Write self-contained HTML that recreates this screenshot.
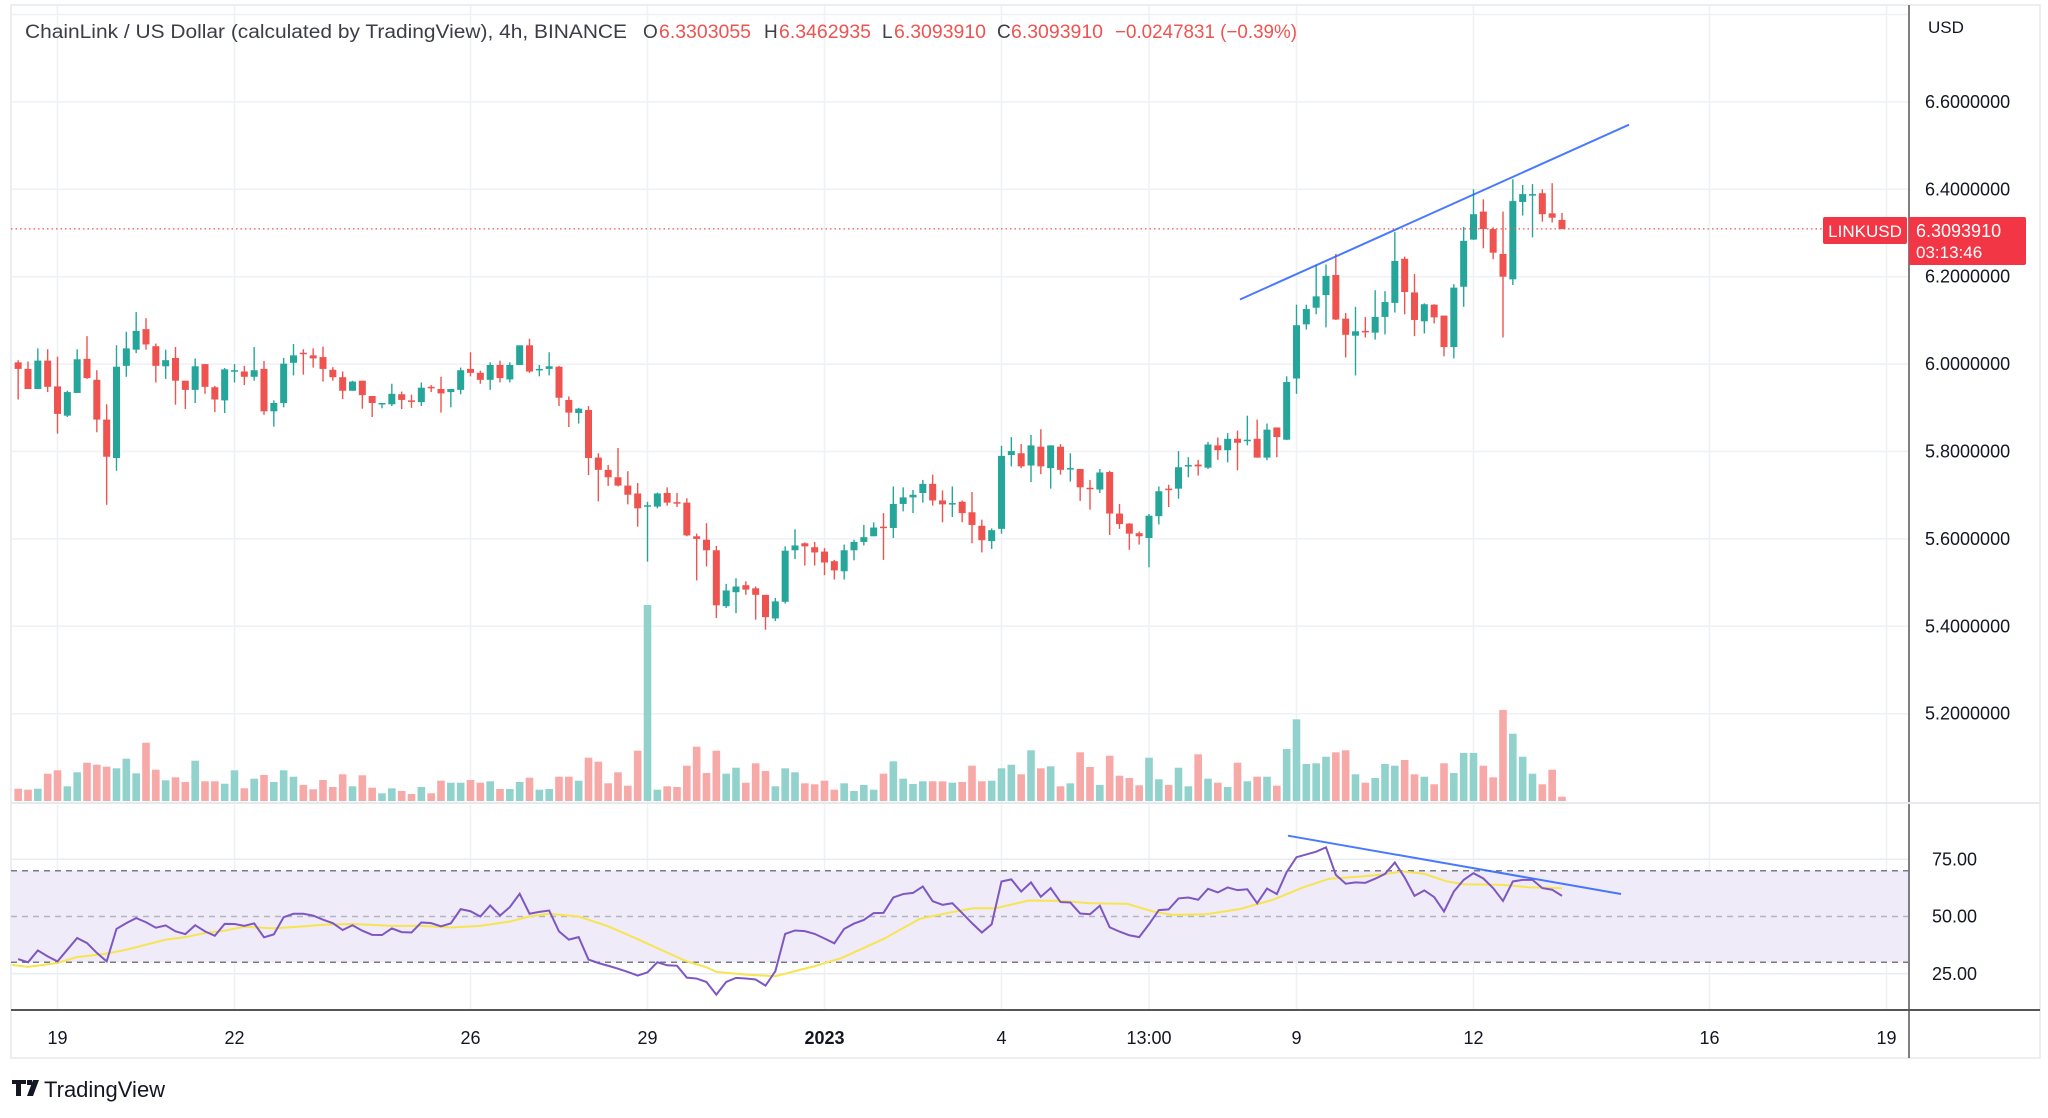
<!DOCTYPE html>
<html><head><meta charset="utf-8"><style>
html,body{margin:0;padding:0;background:#fff;width:2048px;height:1118px;overflow:hidden}
svg{display:block;font-family:"Liberation Sans","DejaVu Sans",sans-serif}
</style></head><body>
<svg id="chart" xmlns="http://www.w3.org/2000/svg" width="2048" height="1118" viewBox="0 0 2048 1118">
<defs>
<clipPath id="plotClip"><rect x="11" y="6" width="1897" height="796"/></clipPath>
<clipPath id="rsiClip"><rect x="11" y="803" width="1897" height="205"/></clipPath>
</defs>
<rect x="0" y="0" width="2048" height="1118" fill="#fff"/>
<rect x="11" y="5" width="2029" height="1053" fill="none" stroke="#e6e9ee" stroke-width="1.5"/>
<g id="grid"></g>
<g id="rsiBand"></g>
<g id="volumes" clip-path="url(#plotClip)"></g>
<g id="candles" clip-path="url(#plotClip)"></g>
<g id="rsi" clip-path="url(#rsiClip)"></g>
<line id="lastLine" x1="11" x2="1908" stroke="#ef5350" stroke-width="1.3" stroke-dasharray="1.5 3"/>
<line x1="1240" y1="299.5" x2="1629" y2="124.7" stroke="#2962ff" stroke-width="2" opacity="0.85"/>
<line x1="1288" y1="835.7" x2="1621" y2="894" stroke="#2962ff" stroke-width="2" opacity="0.85"/>
<line x1="1909" y1="5" x2="1909" y2="1058" stroke="#555" stroke-width="1.5"/>
<line x1="11" y1="803" x2="2040" y2="803" stroke="#e6e9ee" stroke-width="2"/>
<line x1="11" y1="1010" x2="2040" y2="1010" stroke="#555" stroke-width="2"/>
<g id="axes" font-size="18" fill="#131722"></g>
<text x="1928" y="33" font-size="17" fill="#131722">USD</text>
<g font-size="19">
<text x="25" y="38" fill="#3b3e47" textLength="602" lengthAdjust="spacingAndGlyphs">ChainLink / US Dollar (calculated by TradingView), 4h, BINANCE</text>
<text x="643" y="38" fill="#3b3e47">O</text><text x="659" y="38" fill="#ef5350" textLength="92" lengthAdjust="spacingAndGlyphs">6.3303055</text>
<text x="764" y="38" fill="#3b3e47">H</text><text x="779" y="38" fill="#ef5350" textLength="92" lengthAdjust="spacingAndGlyphs">6.3462935</text>
<text x="882" y="38" fill="#3b3e47">L</text><text x="894" y="38" fill="#ef5350" textLength="92" lengthAdjust="spacingAndGlyphs">6.3093910</text>
<text x="997" y="38" fill="#3b3e47">C</text><text x="1011" y="38" fill="#ef5350" textLength="92" lengthAdjust="spacingAndGlyphs">6.3093910</text>
<text x="1115" y="38" fill="#ef5350" textLength="182" lengthAdjust="spacingAndGlyphs">−0.0247831 (−0.39%)</text>
</g>
<g>
<rect x="1823" y="217" width="84" height="27" rx="2" fill="#f23645"/>
<text x="1865" y="237" font-size="17" fill="#fff" text-anchor="middle">LINKUSD</text>
<rect x="1909" y="217" width="117" height="48" rx="2" fill="#f23645"/>
<text x="1916" y="237" font-size="18" fill="#fff">6.3093910</text>
<text x="1916" y="258" font-size="17" fill="#fff">03:13:46</text>
</g>
<g>
<path d="M12 1080h14v4h-5v12h-5v-12h-4z M27 1080h5v5h-5z M33 1080h6l-6 16h-6z" fill="#131722"/>
<text x="44" y="1097" font-size="22" fill="#131722">TradingView</text>
</g>
</svg>
<script>
// ---- data (index 0 = Dec 19 00:00, 4h bars, first bar index = startIdx) ----
const startIdx = -4;
const opens = [6.004,5.989,5.943,6.008,
5.949,5.882,5.934,6.012,5.964,5.873,5.785,5.996,6.033,6.080,
6.041,5.995,6.014,5.962,5.941,6.000,5.947,5.917,5.985,5.983,
5.971,5.989,5.892,5.911,6.003,6.026,6.020,6.016,5.987,5.970,
5.939,5.962,5.927,5.909,5.908,5.931,5.917,5.913,5.948,5.943,
5.936,5.941,5.989,5.980,5.964,5.998,5.965,5.998,6.043,5.988,
5.989,5.994,5.918,5.888,5.895,5.786,5.758,5.741,5.722,5.704,
5.674,5.674,5.705,5.684,5.683,5.606,5.598,5.574,5.446,5.478,
5.494,5.487,5.472,5.418,5.456,5.574,5.590,5.581,5.571,5.549,
5.526,5.574,5.593,5.606,5.628,5.625,5.680,5.695,5.705,5.726,
5.688,5.680,5.685,5.661,5.630,5.595,5.623,5.792,5.796,5.768,
5.811,5.762,5.811,5.760,5.760,5.717,5.713,5.753,5.658,5.635,
5.613,5.602,5.652,5.715,5.715,5.766,5.770,5.763,5.814,5.803,
5.829,5.824,5.829,5.786,5.855,5.827,5.967,6.091,6.129,6.158,
6.204,6.104,6.065,6.076,6.072,6.108,6.140,6.241,6.164,6.098,
6.136,6.111,6.039,6.177,6.285,6.349,6.309,6.252,6.194,6.371,
6.386,6.391,6.345,6.330];
const closes = [5.989,5.943,6.008,5.948,
5.886,5.936,6.011,5.968,5.873,5.788,5.994,6.036,6.076,6.045,
5.996,6.009,5.962,5.941,5.995,5.948,5.919,5.988,5.986,5.971,
5.986,5.892,5.911,6.001,6.020,6.023,6.013,5.989,5.970,5.939,
5.960,5.929,5.911,5.911,5.932,5.918,5.914,5.946,5.945,5.933,
5.943,5.986,5.980,5.964,5.998,5.968,5.998,6.043,5.983,5.989,
5.995,5.923,5.889,5.898,5.785,5.758,5.741,5.722,5.701,5.670,
5.677,5.704,5.683,5.682,5.608,5.600,5.574,5.448,5.482,5.491,
5.484,5.472,5.421,5.457,5.573,5.585,5.583,5.569,5.546,5.528,
5.574,5.593,5.604,5.626,5.627,5.680,5.695,5.701,5.726,5.688,
5.679,5.682,5.659,5.632,5.597,5.620,5.790,5.801,5.766,5.814,
5.766,5.814,5.758,5.762,5.718,5.715,5.752,5.658,5.634,5.612,
5.606,5.653,5.709,5.713,5.764,5.769,5.766,5.816,5.803,5.829,
5.820,5.827,5.786,5.850,5.833,5.959,6.089,6.126,6.155,6.202,
6.102,6.067,6.075,6.075,6.108,6.142,6.236,6.165,6.101,6.137,
6.107,6.039,6.175,6.282,6.343,6.309,6.255,6.200,6.373,6.389,
6.389,6.343,6.335,6.309];
const highs = [6.009,6.006,6.036,6.034,
6.017,5.939,6.034,6.064,5.986,5.908,6.043,6.074,6.119,6.105,
6.047,6.033,6.039,5.962,6.013,6.000,5.950,5.991,6.000,5.996,
6.039,6.007,5.917,6.014,6.046,6.034,6.036,6.040,5.993,5.983,
5.962,5.962,5.927,5.911,5.955,5.937,5.930,5.958,5.952,5.971,
5.943,5.992,6.027,5.985,6.004,6.008,6.004,6.043,6.058,5.998,
6.027,5.996,5.926,5.900,5.904,5.796,5.769,5.808,5.755,5.728,
5.685,5.706,5.718,5.705,5.693,5.612,5.636,5.584,5.497,5.510,
5.503,5.491,5.472,5.465,5.583,5.622,5.592,5.593,5.579,5.552,
5.587,5.598,5.632,5.638,5.659,5.720,5.718,5.712,5.735,5.747,
5.711,5.720,5.688,5.707,5.644,5.624,5.813,5.833,5.817,5.838,
5.851,5.814,5.817,5.796,5.760,5.735,5.760,5.756,5.680,5.636,
5.617,5.657,5.720,5.724,5.801,5.787,5.781,5.822,5.832,5.842,
5.848,5.882,5.873,5.864,5.855,5.972,6.136,6.136,6.227,6.228,
6.252,6.117,6.131,6.108,6.169,6.167,6.302,6.246,6.206,6.139,
6.137,6.111,6.183,6.314,6.400,6.377,6.313,6.349,6.423,6.410,
6.412,6.400,6.414,6.346];
const lows = [5.919,5.943,5.943,5.936,
5.841,5.879,5.934,5.966,5.844,5.678,5.756,5.971,6.025,6.033,
5.958,5.966,5.907,5.897,5.911,5.932,5.890,5.888,5.958,5.952,
5.962,5.884,5.857,5.901,5.974,5.976,5.992,5.960,5.962,5.920,
5.939,5.898,5.879,5.899,5.904,5.897,5.900,5.904,5.936,5.889,
5.901,5.931,5.972,5.955,5.941,5.958,5.958,5.998,5.980,5.972,
5.974,5.904,5.856,5.864,5.746,5.686,5.721,5.720,5.679,5.628,
5.548,5.670,5.676,5.673,5.606,5.505,5.537,5.419,5.442,5.430,
5.472,5.415,5.392,5.412,5.452,5.554,5.539,5.539,5.517,5.507,
5.507,5.551,5.585,5.606,5.552,5.602,5.663,5.659,5.683,5.676,
5.638,5.650,5.638,5.590,5.569,5.577,5.612,5.766,5.762,5.730,
5.748,5.715,5.747,5.731,5.687,5.667,5.705,5.609,5.623,5.575,
5.587,5.535,5.633,5.673,5.692,5.741,5.745,5.760,5.781,5.775,
5.757,5.814,5.786,5.780,5.787,5.826,5.932,6.079,6.114,6.084,
6.101,6.015,5.974,6.061,6.056,6.068,6.118,6.114,6.064,6.070,
6.093,6.018,6.013,6.131,6.284,6.265,6.240,6.061,6.181,6.340,
6.290,6.326,6.324,6.309];
const volumes = [12.3,11.3,12.3,27.3,
30.7,14.7,28.7,38.3,36.3,34.3,32.7,42.3,27.7,58.3,
31.3,20.7,23.7,19,40.3,19.7,19.7,17.3,30.7,12.7,
22.3,26,19,30.7,24.3,16,11.7,21,14,26.7,
14.7,25.7,13.3,7.7,12.7,10,7,14,7.7,20.3,
18.3,18.3,21,18.3,19.7,12,12,19,23.3,11.3,
12,24.3,24.3,20.3,43.3,39.3,17.7,28.7,15.3,50.3,
196,11.3,14.7,14,35.3,54.3,28,50.3,27.3,33.3,
18.3,37.7,30,14.7,32.7,28.7,17.7,16.7,20.3,11.3,
17.7,10,16,11.3,27.3,39.7,22.3,17,19.7,19.7,
19.7,18.3,19,35.3,19.7,20.3,32.7,36.3,26.7,50.7,
32.7,34.7,14.7,17.7,48.7,34,16,45.3,25.3,23,
15.7,43.3,21.7,16,33.3,14.7,46.7,22.3,18.3,14,
38.3,19.7,24.3,24.3,15.3,52,81.7,37,37.7,44.3,
48.7,50.7,26.7,18.3,23,37,35.3,41,26.7,24.3,
16.7,37.7,28,48,48,35.3,23.7,91,67.3,44.3,
27.3,16.7,31.3,4.3];
const rsiValues = [31.4,30.0,35.2,32.6,
30.4,35.5,40.6,38.4,34.1,30.4,44.6,47.1,49.3,47.5,
45.1,46.1,43.5,42.3,46.2,43.5,41.6,46.8,46.7,45.9,
47.0,40.9,42.2,49.7,51.2,51.2,50.4,48.6,47.1,44.1,
46.2,43.8,42.0,41.9,44.8,43.2,43.0,47.4,47.1,45.7,
47.0,53.2,52.3,50.0,54.8,50.4,54.1,59.9,51.2,52.0,
52.6,43.5,39.9,41.0,31.2,29.7,28.5,27.2,25.8,24.2,
25.6,30.0,28.7,28.5,23.3,22.9,21.4,15.9,21.4,23.2,
22.9,22.5,19.8,26.1,42.4,43.9,43.6,42.4,40.4,38.3,
44.6,46.9,48.5,51.5,51.6,58.3,59.8,60.3,63.1,56.7,
55.1,55.8,51.5,47.1,43.0,46.6,65.3,66.2,60.9,64.9,
58.6,62.4,56.3,56.1,51.3,51.0,54.7,45.3,43.4,41.8,
41.0,46.6,52.8,53.1,57.9,58.3,57.3,62.1,60.5,62.7,
61.5,61.9,55.8,62.2,59.8,69.4,75.9,77.1,78.3,80.2,
68.2,64.3,64.9,64.7,66.5,68.6,73.6,67.0,59.0,61.4,
58.5,52.2,60.9,66.0,68.9,66.6,62.4,56.8,65.3,66.0,
66.0,62.4,61.7,59.0];
const rsiMaIdx = [-4.6,-3,0,1.9,5,7,9,11,13,15,17,19,22,25,27,30,34,37,40,43,46,48,50,53,56,59,61,64,66,67,70,73,76.8,79.7,84,87.7,90.5,93.1,95.4,98.8,102,105.1,108.8,111.4,113.4,116.8,120.2,123.6,126.5,129.3,132.8,135,136.8,139,141.3,143,147,149.8,153];
const rsiMaVal = [28.8,28.0,29.7,32.2,33.8,35.5,37.7,39.9,41.0,42.8,43.8,45.5,44.8,45.7,46.4,46.7,45.9,45.9,45.2,45.9,47.8,50.0,51.2,50.0,45.7,40.1,36.2,30.4,27.8,25.8,24.6,23.9,28.1,31.8,40.2,49.0,51.5,53.6,53.6,57.0,56.8,55.8,55.5,52.2,50.7,51.0,53.2,57.3,62.4,66.5,67.5,68.5,69.7,68.6,65.3,64.1,63.8,62.7,62.4];
const priceTicks = [6.6,6.4,6.2,6.0,5.8,5.6,5.4,5.2];
const priceTickLabels = ["6.6000000","6.4000000","6.2000000","6.0000000","5.8000000","5.6000000","5.4000000","5.2000000"];
const rsiTicks = [75,50,25];
const rsiTickLabels = ["75.00","50.00","25.00"];
const timeTickDays = [0,3,7,10,13,16,18.5,21,24,28,31];
const timeTickLabels = ["19","22","26","29","2023","4","13:00","9","12","16","19"];
const lastPrice = 6.3093910;

// ---- scales ----
const NS = "http://www.w3.org/2000/svg";
const dayX = d => 57.5 + d * 59;
const barX = i => dayX(i / 6);
const priceY = p => 189.3 + (6.4 - p) * 437;
const volBase = 801;
const volY = v => volBase - v * 1.0;
const rsiY = r => 916.5 - (r - 50) * 2.29;
const UP = "#26a69a", DN = "#ef5350", UPV = "#92d2cc", DNV = "#f7a9a7";
function mk(tag, attrs, parent) {
  const el = document.createElementNS(NS, tag);
  for (const k in attrs) el.setAttribute(k, attrs[k]);
  parent.appendChild(el);
  return el;
}
const grid = document.getElementById('grid');
const axes = document.getElementById('axes');
priceTicks.concat([6.8]).forEach(p => {
  const l = mk('line', {x1: 11, x2: 1908, y1: priceY(p), y2: priceY(p), stroke: '#eef1f6', 'stroke-width': 1.5}, grid);
  
  
});
priceTicks.forEach((p, k) => {
  const t = mk('text', {x: 1925, y: priceY(p) + 6}, axes);
  t.textContent = priceTickLabels[k];
  
  
});
timeTickDays.forEach((d, k) => {
  const x = dayX(d);
  const l = mk('line', {x1: x, x2: x, y1: 6, y2: 1009, stroke: '#eef1f6', 'stroke-width': 1.5}, grid);
  
  
  const t = mk('text', {x: x, y: 1044, 'text-anchor': 'middle'}, axes);
  if (timeTickLabels[k] === '2023') t.setAttribute('font-weight', 'bold');
  t.textContent = timeTickLabels[k];
  
  
});
const band = document.getElementById('rsiBand');
const br = mk('rect', {x: 11, y: rsiY(70), width: 1897, height: rsiY(30) - rsiY(70), fill: '#efebf8'}, band);


rsiTicks.forEach((r, k) => {
  if (r !== 50) {
    const l = mk('line', {x1: 11, x2: 1908, y1: rsiY(r), y2: rsiY(r), stroke: '#e8edf4', 'stroke-width': 1.5}, band);
    
    
  }
  const t = mk('text', {x: 1932, y: rsiY(r) + 6}, axes);
  t.textContent = rsiTickLabels[k];
  
  
});
[[70, '#787b86'], [50, '#b2b5be'], [30, '#787b86']].forEach(([r, c]) => {
  const l = mk('line', {x1: 11, x2: 1908, y1: rsiY(r), y2: rsiY(r), stroke: c, 'stroke-width': 1.5, 'stroke-dasharray': '6 5'}, band);
  
  
});
const vg = document.getElementById('volumes');
volumes.forEach((v, k) => {
  const i = k + startIdx, x = barX(i);
  const up = closes[k] >= opens[k];
  const r = mk('rect', {x: x - 3.8, y: volY(v), width: 7.6, height: volBase - volY(v), fill: up ? UPV : DNV}, vg);
  
  
});
const cg = document.getElementById('candles');
closes.forEach((c, k) => {
  const i = k + startIdx, x = barX(i), o = opens[k];
  const up = c >= o, col = up ? UP : DN;
  const g = mk('g', {}, cg);
  
  
  mk('line', {x1: x, x2: x, y1: priceY(highs[k]), y2: priceY(lows[k]), stroke: col, 'stroke-width': 1.4}, g);
  const top = priceY(Math.max(o, c)), bot = priceY(Math.min(o, c));
  mk('rect', {x: x - 3.5, y: top, width: 7, height: Math.max(1.5, bot - top), fill: col}, g);
});
const ll = document.getElementById('lastLine');
ll.setAttribute('y1', priceY(lastPrice));
ll.setAttribute('y2', priceY(lastPrice));
const rg = document.getElementById('rsi');
const ma = mk('polyline', {points: rsiMaIdx.map((i, k) => barX(i) + ',' + rsiY(rsiMaVal[k])).join(' '), fill: 'none', stroke: '#f7e451', 'stroke-width': 2}, rg);


const rl = mk('polyline', {points: rsiValues.map((r, k) => barX(k + startIdx) + ',' + rsiY(r)).join(' '), fill: 'none', stroke: '#7e57c2', 'stroke-width': 2}, rg);


</script>
</body></html>
